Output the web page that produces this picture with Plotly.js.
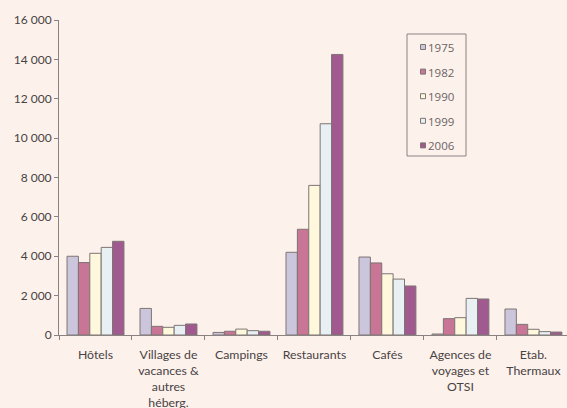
<!DOCTYPE html>
<html>
<head>
<meta charset="utf-8">
<script src="https://cdn.plot.ly/plotly-3.0.1.min.js"></script>
<style>html,body{margin:0;padding:0;background:#fdf1ec;}</style>
</head>
<body>
<div id="chart" style="width:567px;height:408px;"></div>
<script>
const categories = ["Hôtels", "Villages de<br>vacances &amp;<br>autres<br>héberg.", "Campings", "Restaurants", "Cafés", "Agences de<br>voyages et<br>OTSI", "Etab.<br>Thermaux"];
const years = ["1975", "1982", "1990", "1999", "2006"];
const v1975 = [4000, 1350, 130, 4200, 3960, 50, 1320];
const v1982 = [3680, 440, 190, 5370, 3660, 830, 540];
const v1990 = [4150, 390, 300, 7600, 3110, 880, 290];
const v1999 = [4450, 490, 220, 10730, 2840, 1860, 170];
const v2006 = [4760, 560, 190, 14250, 2490, 1830, 150];
const seriesValues = [v1975, v1982, v1990, v1999, v2006];
const colors = ["#cbc6dc", "#c87596", "#fff8dc", "#e9f0f3", "#a05a90"];

const traces = years.map((y, i) => ({
  type: "bar",
  name: y,
  x: categories,
  y: seriesValues[i],
  marker: {color: colors[i], line: {color: "#7d7573", width: 1}}
}));

// plot area in pixels: x 59..567, y 20..335
const PL = 59, PW = 508, PT = 20, PH = 315;
const px = v => (v - PL) / PW;
const py = v => (PT + PH - v) / PH;

const shapes = [{
  type: "rect", xref: "paper", yref: "paper",
  x0: px(407), x1: px(466), y0: py(156), y1: py(34),
  line: {color: "#8a8280", width: 1}, fillcolor: "rgba(0,0,0,0)"
}];
const annotations = [];
years.forEach((y, i) => {
  const cy = 47 + i * 24.6;
  shapes.push({
    type: "rect", xref: "paper", yref: "paper",
    x0: px(420.5), x1: px(425.5), y0: py(cy + 2.5), y1: py(cy - 2.5),
    line: {color: "#7d7573", width: 1}, fillcolor: colors[i]
  });
  annotations.push({
    xref: "paper", yref: "paper", x: px(426), y: py(cy + 0.5),
    xanchor: "left", yanchor: "middle", showarrow: false,
    text: y,
    font: {family: "Open Sans, Lato, sans-serif", size: 11.5, color: "#6a6464"}
  });
});

const tf = {family: "Lato, Open Sans, sans-serif", size: 12.3, color: "#484343"};
const layout = {
  width: 567, height: 408,
  margin: {l: 59, r: 0, t: 20, b: 73},
  paper_bgcolor: "#fdf1ec",
  plot_bgcolor: "#fdf1ec",
  font: tf,
  barmode: "group",
  bargap: 0.22,
  bargroupgap: 0,
  showlegend: false,
  shapes: shapes,
  annotations: annotations,
  xaxis: {
    type: "category",
    range: [-0.5, 6.46],
    tickangle: 0,
    showline: true, linecolor: "#8a8280", linewidth: 1,
    ticks: "outside", tickson: "boundaries", ticklen: 4, tickcolor: "#8a8280",
    ticklabelstandoff: 8,
    showgrid: false, zeroline: false,
    tickfont: tf,
    fixedrange: true
  },
  yaxis: {
    range: [0, 16000],
    tickvals: [0, 2000, 4000, 6000, 8000, 10000, 12000, 14000, 16000],
    ticktext: ["0", "2 000", "4 000", "6 000", "8 000", "10 000", "12 000", "14 000", "16 000"],
    showline: true, linecolor: "#8a8280", linewidth: 1,
    ticks: "outside", ticklen: 4, tickcolor: "#8a8280",
    showgrid: false, zeroline: false,
    tickfont: {family: "Lato, Open Sans, sans-serif", size: 12, color: "#484343"},
    fixedrange: true
  }
};
Plotly.newPlot("chart", traces, layout, {displayModeBar: false, staticPlot: true});
</script>
</body>
</html>
